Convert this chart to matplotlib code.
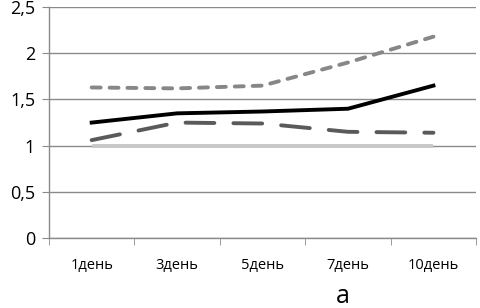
import matplotlib.pyplot as plt
import numpy as np

days = ['1день', '3день', '5день', '7день', '10день']
solid_black = [1.25, 1.35, 1.37, 1.40, 1.65]
dotted_gray = [1.63, 1.62, 1.65, 1.90, 2.18]
dashed_dark = [1.06, 1.25, 1.24, 1.15, 1.14]
base_line = [1.0, 1.0, 1.0, 1.0, 1.0]
yticks = [0, 0.5, 1, 1.5, 2, 2.5]

plt.rcParams['font.family'] = ['Open Sans', 'DejaVu Sans']

fig = plt.figure(figsize=(4.8, 3.08), dpi=100)
ax = fig.add_axes([0.102, 0.227, 0.890, 0.750])

x = np.arange(len(days))
lw = 2.8
ax.plot(x, base_line, color='#c8c8c8', lw=lw, solid_capstyle='butt', zorder=3)
ax.plot(x, dashed_dark, color='#5a5a5a', lw=lw, dashes=(7.4, 4.9),
        dash_capstyle='round', zorder=4)
ax.plot(x, dotted_gray, color='#878787', lw=lw, dashes=(2.3, 2.3),
        dash_capstyle='round', zorder=4)
ax.plot(x, solid_black, color='black', lw=lw, zorder=5)

ax.set_xlim(-0.5, len(days) - 0.5)
ax.set_ylim(0, 2.5)
ax.set_yticks(yticks)
ax.set_yticklabels([('%g' % v).replace('.', ',') for v in yticks], fontsize=13)
ax.yaxis.grid(True, color='#8a8a8a', lw=1)
ax.set_axisbelow(True)

ax.set_xticks(x)
ax.set_xticklabels(days, fontsize=10.5)
ax.set_xticks(np.arange(len(days) + 1) - 0.5, minor=True)
ax.tick_params(axis='x', which='major', length=0, pad=14)
ax.tick_params(axis='x', which='minor', length=5, color='#8a8a8a', direction='out')
ax.tick_params(axis='y', length=5, color='#8a8a8a', pad=5)

for s in ['top', 'right']:
    ax.spines[s].set_visible(False)
for s in ['left', 'bottom']:
    ax.spines[s].set_color('#8a8a8a')
    ax.spines[s].set_linewidth(1)

fig.text(0.714, 0.015, 'а', fontsize=18, ha='center', va='baseline')

fig.savefig('out.png', dpi=100)
